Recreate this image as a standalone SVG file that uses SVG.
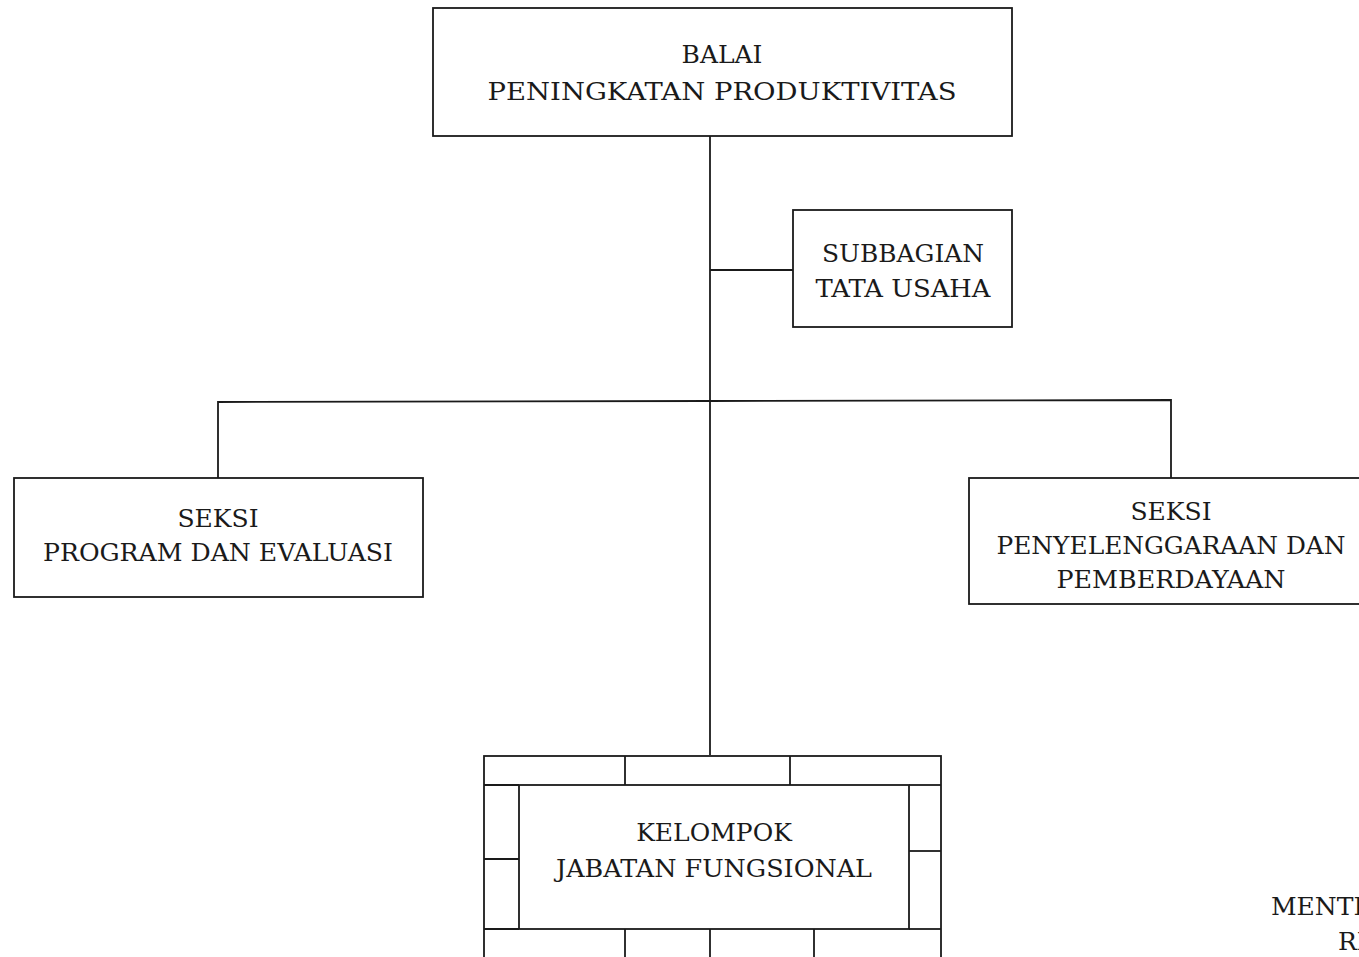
<svg xmlns="http://www.w3.org/2000/svg" width="1359" height="957" viewBox="0 0 1359 957">
<style>
.box{fill:#fff;stroke:#1a1a1a;stroke-width:1.8}
.ln{fill:none;stroke:#1a1a1a;stroke-width:1.8}
.t{font-family:"DejaVu Serif","Liberation Serif",serif;font-size:25px;fill:#1a1a1a;text-anchor:middle}
.ts{font-family:"DejaVu Serif","Liberation Serif",serif;font-size:25px;fill:#1a1a1a;text-anchor:start}
</style>
<rect width="1359" height="957" fill="#fff"/>
<g id="connectors">
<line class="ln" x1="710" y1="136" x2="710" y2="755"/>
<line class="ln" x1="710" y1="270" x2="793" y2="270"/>
<polyline class="ln" points="218,478 218,402 710,401 1171,400 1171,478"/>
</g>
<g id="balai">
<rect class="box" x="433" y="8" width="579" height="128"/>
<text class="t" x="722" y="63">BALAI</text>
<text class="t" x="722" y="100" textLength="469" lengthAdjust="spacingAndGlyphs">PENINGKATAN PRODUKTIVITAS</text>
</g>
<g id="subbagian">
<rect class="box" x="793" y="210" width="219" height="117"/>
<text class="t" x="903" y="262" textLength="162" lengthAdjust="spacingAndGlyphs">SUBBAGIAN</text>
<text class="t" x="903" y="297" textLength="175" lengthAdjust="spacingAndGlyphs">TATA USAHA</text>
</g>
<g id="seksi-program">
<rect class="box" x="14" y="478" width="409" height="119"/>
<text class="t" x="218" y="527">SEKSI</text>
<text class="t" x="218" y="561" textLength="350" lengthAdjust="spacingAndGlyphs">PROGRAM DAN EVALUASI</text>
</g>
<g id="seksi-penyelenggaraan">
<rect class="box" x="969" y="478" width="400" height="126"/>
<text class="t" x="1171" y="520">SEKSI</text>
<text class="t" x="1171" y="554" textLength="349" lengthAdjust="spacingAndGlyphs">PENYELENGGARAAN DAN</text>
<text class="t" x="1171" y="588" textLength="229" lengthAdjust="spacingAndGlyphs">PEMBERDAYAAN</text>
</g>
<g id="kelompok">
<rect class="box" x="484" y="756" width="457" height="210"/>
<rect class="box" x="519" y="785" width="390" height="144"/>
<line class="ln" x1="625" y1="756" x2="625" y2="785"/>
<line class="ln" x1="790" y1="756" x2="790" y2="785"/>
<line class="ln" x1="484" y1="859" x2="519" y2="859"/>
<line class="ln" x1="909" y1="851" x2="941" y2="851"/>
<line class="ln" x1="484" y1="785" x2="519" y2="785"/>
<line class="ln" x1="909" y1="785" x2="941" y2="785"/>
<line class="ln" x1="484" y1="929" x2="519" y2="929"/>
<line class="ln" x1="909" y1="929" x2="941" y2="929"/>
<line class="ln" x1="625" y1="929" x2="625" y2="957"/>
<line class="ln" x1="710" y1="929" x2="710" y2="957"/>
<line class="ln" x1="814" y1="929" x2="814" y2="957"/>
<text class="t" x="714" y="841">KELOMPOK</text>
<text class="t" x="714" y="877" textLength="316" lengthAdjust="spacingAndGlyphs">JABATAN FUNGSIONAL</text>
</g>
<g id="signature">
<text class="ts" x="1271" y="915">MENTERI</text>
<text class="ts" x="1338" y="950">REPUBLIK</text>
</g>
</svg>
